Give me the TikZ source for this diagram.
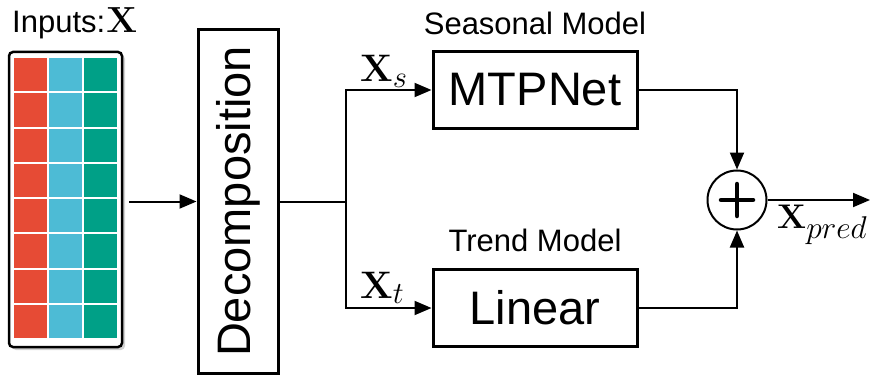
\documentclass[tikz,border=0pt]{standalone}
\usepackage[no-math]{fontspec}
\usepackage{graphicx}
\setmainfont{Liberation Sans}
\usetikzlibrary{arrows.meta,shadows,calc}

\definecolor{cellred}{HTML}{E64B35}
\definecolor{cellblue}{HTML}{4DBBD5}
\definecolor{cellteal}{HTML}{00A087}

% math set at 20.74pt and scaled up, since the CM fonts stop at 24.88pt
\newcommand{\bigmath}[2]{\scalebox{#1}{\fontsize{20.74}{24}\selectfont$#2$}}
% subscript sized relative to the base math size
\newcommand{\subsz}[2]{\scalebox{#1}{$#2$}}

\tikzset{
  blockbox/.style={draw, line width=3pt, rectangle, inner sep=0pt},
  modelbox/.style={blockbox, minimum width=204, minimum height=77,
    font=\fontsize{47}{50}\selectfont},
  caption/.style={font=\fontsize{31}{34}\selectfont, inner sep=0pt},
  mathlbl/.style={inner sep=0pt},
  link/.style={line width=2pt, -{Triangle[length=17pt,width=14pt]}},
  plainlink/.style={line width=2pt}
}

\begin{document}
\begin{tikzpicture}[x=1pt,y=-1pt]
\useasboundingbox (0,0) rectangle (872,377);

% input tensor with its grid of cells
\node[caption, anchor=base west] (inlabel) at (12,33)
  {Inputs:\hspace{1pt}\bigmath{1.75}{\mathbf{X}}};
\node[draw, line width=2.5pt, rounded corners=4pt, fill=white,
      minimum width=113, minimum height=295, inner sep=0pt,
      drop shadow={opacity=0.35, shadow xshift=3pt, shadow yshift=-3pt}]
  (inbox) at (65.5,199.5) {};
\foreach \r in {0,...,7} {
  \pgfmathsetmacro{\ytop}{58.3+35.2*\r}
  \pgfmathsetmacro{\ybot}{\ytop+33.2}
  \fill[cellred]  (14,\ytop) rectangle (47,\ybot);
  \fill[cellblue] (49,\ytop) rectangle (82,\ybot);
  \fill[cellteal] (84,\ytop) rectangle (117,\ybot);
}

% decomposition block
\node[blockbox, minimum width=80, minimum height=343] (decomp) at (238,201.5) {};
\node[rotate=90, inner sep=0pt, font=\fontsize{47}{50}\selectfont]
  (decomptext) at (238,201.5) {Decomposition};

% the two model branches
\node[caption] (seasonal) at (535,23) {Seasonal Model};
\node[modelbox] (mtp) at (535,90) {MTPNet};
\node[caption] (trend) at (535,240) {Trend Model};
\node[modelbox] (lin) at (535,308) {Linear};

% summation
\node[draw, circle, line width=2pt, minimum size=59, inner sep=0pt] (plus) at (737,200) {};
\draw[line width=4.5pt, line cap=round] ($(plus)+(-16,0)$) -- ($(plus)+(16,0)$);
\draw[line width=4.5pt, line cap=round] ($(plus)+(0,-16)$) -- ($(plus)+(0,16)$);

\coordinate (split) at (346,201.5);
\coordinate (out) at (870,200);

% connectors
\draw[link] ([xshift=6pt]inbox.east |- decomp.west) -- (decomp.west);
\draw[plainlink] (decomp.east) -- (split);
\draw[link] (split) |- (mtp.west);
\draw[link] (split) |- (lin.west);
\draw[link] (mtp.east) -| (plus.north);
\draw[link] (lin.east) -| (plus.south);
\draw[link] (plus.east) -- (out);

% signal labels
\node[mathlbl, anchor=base west] (xs) at (360,82) {\bigmath{1.85}{\mathbf{X}_{\subsz{0.8}{s}}}};
\node[mathlbl, anchor=base west] (xt) at (360,298) {\bigmath{1.85}{\mathbf{X}_{\subsz{0.8}{t}}}};
\node[mathlbl, anchor=base west] (xpred) at (777,228) {\bigmath{1.65}{\mathbf{X}_{\subsz{0.92}{pred}}}};
\end{tikzpicture}
\end{document}
